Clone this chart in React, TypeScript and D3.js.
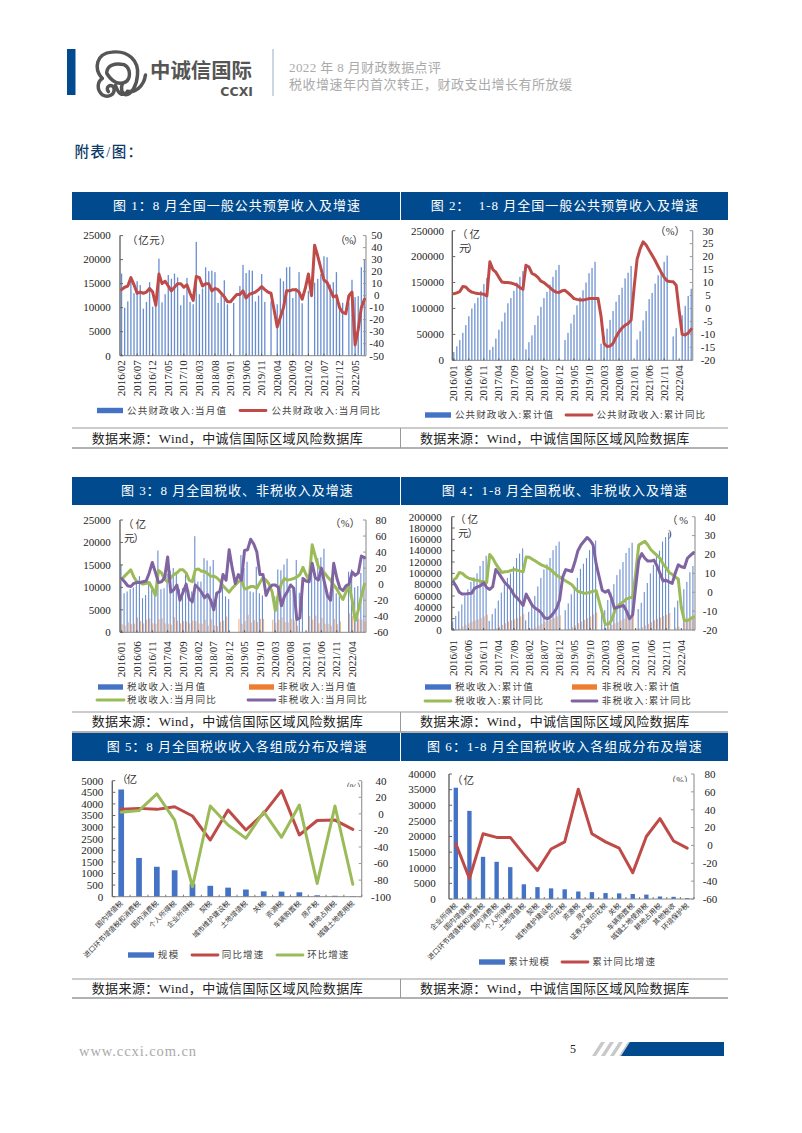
import React from "react";
import * as d3 from "d3";

const FONT = "'Liberation Serif','Noto Sans CJK SC',serif";
const BLUE = "#4472C4", ORANGE = "#ED7D31", RED = "#BE4B48", GREEN = "#9BBB59", PURPLE = "#8064A2", NAVY = "#004A8D";

// ---------- Chart 1
const ticks1 = ["2016/02","2016/07","2016/12","2017/05","2017/10","2018/03","2018/08","2019/01","2019/06","2019/11","2020/04","2020/09","2021/02","2021/07","2021/12","2022/05"];
const monthBars1 = [
  17100,10000,11300,15800,13000,15500,14700,9800,11200,15300,10200,10800,
  20200,11100,12800,16800,16000,17100,16300,10500,12600,16200,11200,10700,
  23700,12800,14000,18400,17600,17700,17400,11000,12600,15700,10700,0,
  11000,0,14500,18900,17200,17800,17700,11300,12500,17000,11200,0,
  11300,0,10700,16100,15500,18400,18500,12000,14100,17400,10900,0,
  13500,0,15200,16000,17000,20700,20500,14800,15300,17400,11000,11000,
  0,11000,15800,12200,12400,18400,20000];
const monthYoY1 = [
  5,7,8,15,9,2,3,2,3,6,3,-8,
  18,10,12,8,4,7,10,10,7,9,2,-4,
  16,15,8,10,10,4,6,5,2,-1,-5,-5,
  -2,1,1,4,-2,1,2,3,5,7.5,5,3,
  2,-12,-26,-18,-10,4,4,5,5,3,-3,6,
  18,0,42,33,23,13,11,5,-1,0,-10,-14,
  -15,0,3,-41,-28,-10,-3];

// ---------- Chart 2
const ticks2 = ["2016/01","2016/06","2016/11","2017/04","2017/09","2018/02","2018/07","2018/12","2019/05","2019/10","2020/03","2020/08","2021/01","2021/06","2021/11","2022/04"];
const cumBars2 = [
  16000,27000,39000,53000,68000,85000,100000,110000,121000,134000,147000,159000,
  20000,26000,42000,59000,75000,92000,110000,120000,134000,150000,161000,172000,
  21000,35000,48000,68000,86000,103000,120000,132000,146000,161000,174000,184000,
  0,39000,53000,71000,88000,106000,122000,135000,150000,168000,178000,190000,
  0,32000,46000,61000,78000,95000,113000,126000,140000,158000,169000,182000,
  0,40000,56000,77000,95000,118000,130000,148000,164000,172000,190000,202000,
  0,46000,62000,0,87000,105000,124000,138000];
const cumYoY2 = [
  5.7,6,6.5,8.5,8.3,7,6.3,6,5.8,5.7,5.5,4.8,
  18,15,14,12,10.2,10,10,9.8,9.5,9,8,7.4,
  16.7,16,13.5,13,12,10.5,10,9,8,7,6.3,6.2,
  6.8,7,6,5,3.8,3.5,3.3,3.3,3.5,3.8,3.8,3.8,
  3.8,-3,-13.5,-14.7,-14.5,-13.5,-11,-9,-7.5,-6.5,-5.8,-4.5,
  8,19,23,25.7,24.5,22.5,20.5,18.5,16.2,14,12,10.6,
  10.4,10.3,9,-1,-10,-10.2,-9.5,-8];

// ---------- Chart 3
const taxMonth3 = [
  15000,8700,9100,9600,10000,11700,12500,7600,8300,11300,9500,8700,
  18200,9600,9800,13000,13700,14300,13000,9600,9800,13500,9500,9100,
  21400,11300,11300,16500,16000,14700,16100,8900,9600,13200,8000,7400,
  0,0,0,17200,14300,15700,9100,8900,14600,8700,8200,0,
  0,0,8000,14000,13800,15100,16400,9500,10000,16100,8800,9000,
  0,13000,15500,12000,16500,16700,18600,8000,9000,14000,8700,8000,
  0,0,13500,14000,10000,10300,13200,17000];
const nonTaxMonth3 = [
  1800,1500,2200,1800,1900,3300,2500,2000,2800,3100,2000,1900,
  2900,3100,2000,1900,1700,3400,2600,2000,2500,2400,2000,2600,
  2500,2000,1900,2800,1500,2900,1600,1400,2300,2600,3500,0,
  0,0,3000,1900,2500,3900,2200,2700,2300,3000,3000,0,
  0,2800,2100,2800,3300,2300,2200,3000,2700,1500,0,0,
  0,3600,2800,3700,2000,3200,1900,1900,1500,3000,1800,2400,
  0,0,4200,3600,2100,3000,2800,2400];
const taxYoY3 = [
  6,10,14,18,9,3,2,0,1,2,-5,-14,
  17,14,6,3,8,12,14,18,18,14,5,3,
  18,19,16,16,13,10,10,8,4,-2,-6,-10,
  -5,-1,3,5,-6,-5,-3,-3,-5,2,8,5,
  0,-10,-33,-12,1,7,5,6,7,9,12,21,
  12,5,49,35,22,18,14,9,5,-1,-6,-13,
  -19,-10,-1,-20,-46,-32,-15,0];
const nonTaxYoY3 = [
  7,3,-2,-3,1,2,2,3,4,14,27,15,
  2,3,8,34,-10,-7,-1,-20,-10,0,-18,-22,
  -1,-5,-10,-17,-13,-20,-32,-11,-9,12,5,43,
  20,1,12,5,42,43,56,50,40,12,12,-14,
  -5,-1,-1,-4,-27,-15,-9,-1,-5,-44,-42,7,
  4,3,26,8,5,20,2,-15,-20,26,8,-5,
  -8,-2,0,15,11,14,35,33];

// ---------- Chart 4
const taxCum4 = [
  15000,25000,33000,45000,60000,72000,85000,93000,100000,113000,122000,131000,
  16000,28000,38000,52000,66000,80000,92000,100000,112000,127000,135000,144000,
  17000,32000,47000,60000,77000,92000,107000,116000,127000,141000,149000,156000,
  0,35000,47000,63000,76000,92000,108000,117000,127000,141000,156000,158000,
  0,30000,35000,53000,66000,81000,97000,107000,120000,136000,145000,154000,
  0,37000,48000,67000,83000,100000,115000,130000,140000,156000,164000,172000,
  0,40000,52000,0,72000,85000,102000,113000];
const nonTaxCum4 = [
  1000,2000,3000,6000,9000,12000,15000,17000,19000,21000,24000,27000,
  1000,2000,3000,6000,9000,12000,15000,17000,19000,21000,24000,28000,
  1000,2000,3000,5000,8000,11000,14000,16000,19000,21000,24000,26000,
  0,1500,2500,5000,8000,12000,15000,18000,21000,24000,28000,31000,
  0,2000,3000,6000,9000,12000,14000,17000,20000,23000,25000,28000,
  0,3000,5000,8000,11000,14000,17000,20000,22000,25000,27000,30000,
  0,4000,6000,0,14000,18000,21000,25000];
const taxYoY4 = [
  6.5,7.5,10.5,10,8.5,7.5,7,6.5,6.3,5.8,5.5,5.2,
  20,18,15,12.6,10.5,10.8,11,11.5,12,11.7,11.2,10.8,
  18.7,18.5,17.5,16.5,15.5,14.5,13.8,13,12,10.5,9,8,
  7,6,5,4,2,0.5,0,-0.5,-0.5,0,0.5,0.8,
  -5,-11,-17,-17,-15,-10.5,-7.5,-6,-5,-3.5,-3,-2.5,
  10,25,26,27,25,22.5,21,19.5,18,15,13,10.5,
  9.5,8,7,-8,-15,-15,-14,-13];
const nonTaxYoY4 = [
  5.6,3,0,-1,-1,-0.7,-0.6,2,2.8,3.5,5,2.5,
  1.5,3,12,10,7.5,5,3.5,1.5,-1.5,-3,-5,-7,
  -1,-4,-7,-8.5,-9.5,-11,-13.5,-14,-13,-11,-8.5,-4,
  8,12,11.5,11,16,22,25,27,29,27.5,25,15,
  8,1,0,1,-3,-8.5,-8,-7.5,-7,-10,-14,-12,
  3,17,20.5,18,16.5,16.5,17,14,10,6,6.3,5.5,
  4.7,10,14.5,13.5,13,18,19.5,21];

// ---------- Chart 5
const taxKinds5 = ["国内增值税","进口环节增值税和消费税","国内消费税","个人所得税","企业所得税","契税","城市维护建设税","土地增值税","关税","资源税","车辆购置税","房产税","耕地占用税","城镇土地使用税"];
const scale5 = [4620,1670,1290,1140,560,470,390,310,230,220,190,60,40,25];
const yoy5 = [5.4,6.6,5.4,8.6,-2.6,-31.6,4.6,-19.5,0.5,28,-25.5,-8,-7.5,-18.7];
const mom5 = [2,4,24,-7.5,-88,9.5,-13.5,-29.6,2.5,-28.3,10.6,-84,9.4,-85];

// ---------- Chart 6
const taxKinds6 = ["企业所得税","国内增值税","进口环节增值税和消费税","国内消费税","个人所得税","土地增值税","契税","城市维护建设税","印花税","资源税","房产税","证券交易印花税","关税","车辆购置税","城镇土地使用税","耕地占用税","其他税收","环境保护税"];
const scale6 = [35600,28200,13500,11900,10200,4700,3800,3400,3100,2400,2200,1900,1800,1600,1400,800,700,300];
const yoy6 = [2,-37,13,9,9,-10,-28,-4,4,63,13,4,-3,-30.5,10,30,5,-3];

// ---------- page texts
const reportTitle = "2022 年 8 月财政数据点评";
const reportSubtitle = "税收增速年内首次转正，财政支出增长有所放缓";
const sourceText = "数据来源：Wind，中诚信国际区域风险数据库";

type Panel = any;
const panels: Panel[] = [
  {
    id: 1, title: "图 1：8 月全国一般公共预算收入及增速", titleBox: [113, 360, 205.5],
    frame: { l: 120, r: 366, t: 235.6, b: 355.7 },
    leftDomain: [0, 25000], leftTicks: d3.range(0, 25001, 5000), leftEnd: 110.7,
    rightDomain: [-50, 50], rightTicks: d3.range(-50, 51, 10), rightMid: 376.7,
    n: 79, xTicks: ticks1, xGap: 4.5,
    bars: [{ v: monthBars1, c: BLUE }], frac: 0.42,
    lines: [{ v: monthYoY1, c: RED }],
    units: [["（亿元）", 127, 171, 240], ["（%）", 335, 363, 240]],
    legend: [
      ["bar", BLUE, 97, 123, 410.5, "公共财政收入:当月值", 127, 226],
      ["line", RED, 240, 266, 410.5, "公共财政收入:当月同比", 271.5, 380],
    ],
  },
  {
    id: 2, title: "图 2：  1-8 月全国一般公共预算收入及增速", titleBox: [430.7, 698, 205.5],
    frame: { l: 452.3, r: 692.7, t: 230.7, b: 360.3 },
    leftDomain: [0, 250000], leftTicks: d3.range(0, 250001, 50000), leftEnd: 444,
    rightDomain: [-20, 30], rightTicks: d3.range(-20, 31, 5), rightMid: 708,
    n: 80, xTicks: ticks2, xGap: 5,
    bars: [{ v: cumBars2, c: BLUE }], frac: 0.42,
    lines: [{ v: cumYoY2, c: RED }],
    units: [["（亿", 457, 480, 234], ["元）", 459, 478, 248], ["（%）", 655, 685, 231]],
    legend: [
      ["bar", BLUE, 425, 451, 415, "公共财政收入:累计值", 455, 553],
      ["line", RED, 566, 592, 415, "公共财政收入:累计同比", 596.5, 705],
    ],
  },
  {
    id: 3, title: "图 3：8 月全国税收、非税收入及增速", titleBox: [121, 352.7, 490.7],
    frame: { l: 120, r: 366, t: 520, b: 632.3 },
    leftDomain: [0, 25000], leftTicks: d3.range(0, 25001, 5000), leftEnd: 110.7,
    rightDomain: [-60, 80], rightTicks: d3.range(-60, 81, 20), rightMid: 381,
    n: 80, xTicks: ticks2, xGap: 9,
    bars: [{ v: taxMonth3, c: BLUE }, { v: nonTaxMonth3, c: ORANGE }], frac: 0.72,
    lines: [{ v: taxYoY3, c: GREEN }, { v: nonTaxYoY3, c: PURPLE }],
    units: [["（亿", 123, 146, 524], ["元）", 124, 144, 538], ["（%）", 330, 360, 523]],
    legend: [
      ["bar", BLUE, 98, 123, 687, "税收收入:当月值", 127, 205],
      ["bar", ORANGE, 249, 274, 687, "非税收入:当月值", 278, 355.7],
      ["line", GREEN, 97, 124, 700, "税收收入:当月同比", 127, 215.7],
      ["line", PURPLE, 248, 275, 700, "非税收入:当月同比", 278, 366.7],
    ],
  },
  {
    id: 4, title: "图 4：1-8 月全国税收、非税收入及增速", titleBox: [441.7, 687, 490.7],
    frame: { l: 451.7, r: 695, t: 516.7, b: 630 },
    leftDomain: [0, 200000], leftTicks: d3.range(0, 200001, 20000), leftEnd: 441.7,
    rightDomain: [-20, 40], rightTicks: d3.range(-20, 41, 10), rightMid: 710,
    n: 80, xTicks: ticks2, xGap: 10,
    bars: [{ v: taxCum4, c: BLUE }, { v: nonTaxCum4, c: ORANGE }], frac: 0.72,
    lines: [{ v: taxYoY4, c: GREEN }, { v: nonTaxYoY4, c: PURPLE }],
    units: [["（亿", 455, 478, 519], ["元）", 458, 478, 533], ["（%", 667, 688, 520], [")", 668, 672, 533]],
    legend: [
      ["bar", BLUE, 425, 451, 687, "税收收入:累计值", 455, 532.7],
      ["bar", ORANGE, 572, 597, 687, "非税收入:累计值", 601.7, 679.3],
      ["line", GREEN, 425, 451, 701, "税收收入:累计同比", 455, 543],
      ["line", PURPLE, 572, 597, 701, "非税收入:累计同比", 601.7, 690.7],
    ],
  },
  {
    id: 5, title: "图 5：8 月全国税收收入各组成分布及增速", titleBox: [106.7, 366.7, 746.7],
    frame: { l: 112.3, r: 361.7, t: 780.7, b: 896.7 },
    leftDomain: [0, 5000], leftTicks: d3.range(0, 5001, 500), leftEnd: 103.3,
    rightDomain: [-100, 40], rightTicks: d3.range(-100, 41, 20), rightMid: 381,
    n: 14, cats: taxKinds5,
    bars: [{ v: scale5, c: BLUE }], frac: 0.32,
    lines: [{ v: yoy5, c: RED }, { v: mom5, c: GREEN }],
    units: [["（亿", 117, 137, 779]],
    clippedUnit: ["（%）", 341, 366, 787, 778, 787],
    legend: [
      ["bar", BLUE, 128, 154, 955, "规模", 157.7, 178.3],
      ["line", RED, 192, 218, 955, "同比增速", 221.7, 263.3],
      ["line", GREEN, 277, 303, 955, "环比增速", 307.3, 348.3],
    ],
  },
  {
    id: 6, title: "图 6：1-8 月全国税收收入各组成分布及增速", titleBox: [427, 701.7, 746.7],
    frame: { l: 449, r: 694, t: 774, b: 899 },
    leftDomain: [0, 40000], leftTicks: d3.range(0, 40001, 5000), leftEnd: 435.7,
    rightDomain: [-60, 80], rightTicks: d3.range(-60, 81, 20), rightMid: 710,
    n: 18, cats: taxKinds6,
    bars: [{ v: scale6, c: BLUE }], frac: 0.32,
    lines: [{ v: yoy6, c: RED }],
    units: [["（亿", 452, 474, 780]],
    clippedUnit: ["（%）", 667, 693, 780, 774, 782],
    legend: [
      ["bar", BLUE, 479, 505, 962, "累计规模", 508.3, 549],
      ["line", RED, 562, 588, 962, "累计同比增速", 592.3, 655],
    ],
  },
];

function Fit({ x0, x1, y, size, fill, text, weight }: any) {
  return (
    <text x={x0} y={y + size * 0.36} fontSize={size} fill={fill} fontFamily={FONT} fontWeight={weight}
      textLength={x1 - x0} lengthAdjust="spacing" xmlSpace="preserve" style={{ whiteSpace: "pre" }}>
      {text}
    </text>
  );
}

function Chart({ p }: { p: Panel }) {
  const { l, r, t, b } = p.frame;
  const idx = d3.range(p.n);
  const band = d3.scaleBand<number>().domain(idx).range([l, r]);
  const bw = band.bandwidth();
  const yL = d3.scaleLinear().domain(p.leftDomain).range([b, t]);
  const yR = d3.scaleLinear().domain(p.rightDomain).range([b, t]);
  const groupW = bw * p.frac;
  const inner = d3.scaleBand<number>().domain(d3.range(p.bars.length)).range([(bw - groupW) / 2, (bw + groupW) / 2]);
  const line = d3.line<number>().x((_, i) => band(i)! + bw / 2);
  const clipId = "unit-clip-" + p.id;
  return (
    <g>
      {p.bars.map((s: any, si: number) =>
        s.v.map((val: number, i: number) =>
          val > 0 ? (
            <rect key={si + "-" + i} x={band(i)! + inner(si)!} width={inner.bandwidth()} y={yL(val)} height={b - yL(val)}
              fill={s.c} opacity={p.n > 20 ? (s.c === ORANGE ? 0.6 : 0.8) : 1} />
          ) : null
        )
      )}
      {/* axes */}
      <line x1={l} x2={l} y1={t} y2={b} stroke="#666" strokeWidth={1.4} />
      <line x1={r} x2={r} y1={t} y2={b} stroke="#999" strokeWidth={1.2} />
      <line x1={l} x2={r} y1={b} y2={b} stroke="#888" strokeWidth={1} />
      {p.leftTicks.map((v: number) => (
        <g key={"l" + v}>
          <line x1={l} x2={l + 3} y1={yL(v)} y2={yL(v)} stroke="#666" />
          <text x={p.leftEnd} y={yL(v) + 3.8} fontSize={11} textAnchor="end" fill="#222" fontFamily={FONT}>{v}</text>
        </g>
      ))}
      {p.rightTicks.map((v: number) => (
        <g key={"r" + v}>
          <line x1={r - 3} x2={r} y1={yR(v)} y2={yR(v)} stroke="#999" />
          <text x={p.rightMid} y={yR(v) + 3.8} fontSize={11} textAnchor="middle" fill="#222" fontFamily={FONT}>{v}</text>
        </g>
      ))}
      {p.xTicks && p.xTicks.map((lab: string, k: number) => {
        const x = band(k * 5)! + bw / 2;
        return (
          <g key={lab}>
            <line x1={x} x2={x} y1={b - 2} y2={b} stroke="#555" />
            <text transform={`translate(${x + 3.6},${b + p.xGap}) rotate(-90)`} fontSize={11} textAnchor="end" fill="#222" fontFamily={FONT}>{lab}</text>
          </g>
        );
      })}
      {p.cats && p.cats.map((lab: string, i: number) => {
        const x = band(i)! + bw / 2;
        return (
          <g key={lab}>
            <line x1={x + bw / 2} x2={x + bw / 2} y1={b - 2} y2={b} stroke="#777" />
            <text transform={`translate(${x + 2},${b + 7}) rotate(-45)`} fontSize={7} textAnchor="end" fill="#333" fontFamily={FONT}>{lab}</text>
          </g>
        );
      })}
      {p.lines.map((s: any, si: number) => (
        <path key={si} d={line.y((d: number) => yR(d))(s.v) || ""} fill="none" stroke={s.c} strokeWidth={3} strokeLinejoin="round" strokeLinecap="round" />
      ))}
      {p.units.map((u: any, i: number) => (
        <Fit key={i} text={u[0]} x0={u[1]} x1={u[2]} y={u[3]} size={10.5} fill="#333" />
      ))}
      {p.clippedUnit && (
        <g>
          <clipPath id={clipId}>
            <rect x={p.clippedUnit[1] - 2} y={p.clippedUnit[4]} width={p.clippedUnit[2] - p.clippedUnit[1] + 4} height={p.clippedUnit[5] - p.clippedUnit[4]} />
          </clipPath>
          <g clipPath={`url(#${clipId})`}>
            <Fit text={p.clippedUnit[0]} x0={p.clippedUnit[1]} x1={p.clippedUnit[2]} y={p.clippedUnit[3]} size={9} fill="#333" />
          </g>
        </g>
      )}
      {p.legend.map((e: any, i: number) => (
        <g key={i}>
          {e[0] === "bar"
            ? <rect x={e[2]} width={e[3] - e[2]} y={e[4] - 2.7} height={5.4} fill={e[1]} />
            : <line x1={e[2]} x2={e[3]} y1={e[4]} y2={e[4]} stroke={e[1]} strokeWidth={2.8} strokeLinecap="round" />}
          <Fit text={e[5]} x0={e[6]} x1={e[7]} y={e[4]} size={9.5} fill="#444" />
        </g>
      ))}
    </g>
  );
}

function Logo() {
  return (
    <g>
      <g transform="translate(60,30) scale(0.346)" fill="none" stroke="#555" strokeWidth={10} strokeLinecap="round" strokeLinejoin="round">
        <path d="M122,140 C96,110 105,68 150,64 C198,58 228,90 224,130 C222,160 207,187 190,187 C178,187 175,167 180,157" />
        <path d="M135,125 C135,100 160,95 185,100 C205,110 205,140 190,150 C170,160 150,150 135,125" />
        <path d="M122,140 C108,150 105,172 122,187 C140,197 162,187 155,165 C145,155 130,165 140,178" />
        <path d="M195,177 C215,182 242,165 247,130" />
        <path d="M160,160 C170,187 180,190 190,182" />
      </g>
      <text x={150} y={78} fontSize={20.4} fontWeight={700} fill="#555" fontFamily="'Noto Sans CJK SC',sans-serif">中诚信国际</text>
      <text x={253} y={96} fontSize={12.5} fontWeight={700} textAnchor="end" fill="#555" fontFamily="'DejaVu Sans',sans-serif">CCXI</text>
    </g>
  );
}

export default function App() {
  return (
    <svg width={802} height={1133} viewBox="0 0 802 1133" style={{ position: "absolute", left: 0, top: 0, display: "block", background: "#fff" }}>
      {/* running header */}
      <rect x={67} y={49} width={8.5} height={46} fill={NAVY} />
      <Logo />
      <line x1={273} x2={273} y1={49} y2={96} stroke="#A9BDD1" strokeWidth={1.2} />
      <Fit text={reportTitle} x0={289} x1={441} y={67} size={13} fill="#AAA" />
      <Fit text={reportSubtitle} x0={289} x1={572} y={84} size={13} fill="#AAA" />
      <Fit text="附表/图：" x0={74.5} x1={142} y={152} size={14.5} fill="#0B3A66" weight={500} />

      {/* header bars and table rules */}
      {panels.map((p) => {
        const left = p.id % 2 === 1;
        const yTop = p.id <= 2 ? 192 : p.id <= 4 ? 477 : 733;
        return (
          <g key={p.id}>
            <rect x={left ? 72 : 401} width={left ? 328 : 327} y={yTop} height={28} fill={NAVY} />
            <Fit text={p.title} x0={p.titleBox[0]} x1={p.titleBox[1]} y={p.titleBox[2]} size={13} fill="#fff" />
          </g>
        );
      })}
      {[[428, 448, 438], [712, 732, 721.7], [979, 998, 988]].map(([a, c, m]) => (
        <g key={a}>
          <line x1={72} x2={728} y1={a} y2={a} stroke="#999" />
          <line x1={72} x2={728} y1={c} y2={c} stroke="#999" strokeWidth={1.4} />
          <line x1={400.5} x2={400.5} y1={a} y2={c} stroke="#999" />
          <Fit text={sourceText} x0={91.7} x1={362.7} y={m} size={13} fill="#222" />
          <Fit text={sourceText} x0={420} x1={689.3} y={m} size={13} fill="#222" />
        </g>
      ))}

      {panels.map((p) => <Chart key={p.id} p={p} />)}

      {/* footer */}
      <Fit text="www.ccxi.com.cn" x0={79} x1={196} y={1051} size={14.5} fill="#AAA" />
      <text x={573} y={1053} fontSize={12} textAnchor="middle" fontFamily={FONT} fill="#222">5</text>
      {[592, 601, 610, 619].map((x) => (
        <path key={x} d={`M${x},1056 l9,-14 h4 l-9,14 z`} fill="#C8C8C8" />
      ))}
      <path d="M621,1056 l9,-14 H724 V1056 Z" fill={NAVY} />
    </svg>
  );
}
